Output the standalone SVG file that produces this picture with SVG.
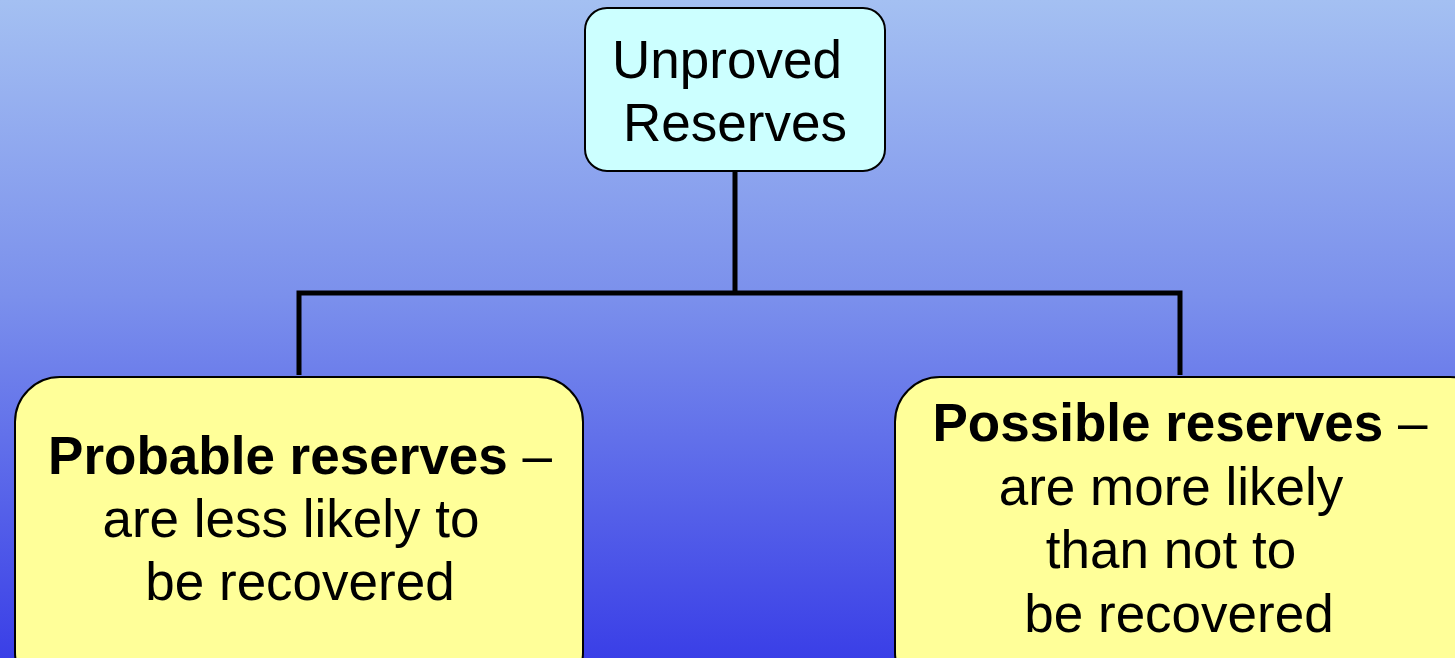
<svg xmlns="http://www.w3.org/2000/svg" width="1455" height="658" viewBox="0 0 1455 658">
<defs>
<linearGradient id="bg" x1="0" y1="0" x2="0" y2="1">
<stop offset="0" stop-color="#a4c0f2"/>
<stop offset="0.45" stop-color="#7b90ec"/>
<stop offset="1" stop-color="#3a3fe7"/>
</linearGradient>
<style>
.t{font-family:"Liberation Sans",Arial,sans-serif;font-size:53px;fill:#000;text-anchor:middle}
.b{font-weight:bold}
.box{stroke:#000;stroke-width:2}
.conn{fill:none;stroke:#000;stroke-width:5}
</style>
</defs>
<rect x="0" y="0" width="1455" height="658" fill="url(#bg)"/>
<g id="connectors">
<path class="conn" d="M735 171 V293 M299 375 V293 H1180 V375"/>
</g>
<g id="unproved">
<rect class="box" x="585" y="8" width="300" height="163" rx="22" fill="#ccffff"/>
<text class="t" x="727" y="78">Unproved</text>
<text class="t" x="735" y="141">Reserves</text>
</g>
<g id="probable">
<rect class="box" x="15" y="377" width="568" height="320" rx="45" fill="#ffff99"/>
<text class="t" x="300" y="474"><tspan class="b">Probable reserves</tspan> –</text>
<text class="t" x="291" y="537">are less likely to</text>
<text class="t" x="300" y="600">be recovered</text>
</g>
<g id="possible">
<rect class="box" x="895" y="377" width="600" height="320" rx="45" fill="#ffff99"/>
<text class="t" x="1180" y="441"><tspan class="b">Possible reserves</tspan> –</text>
<text class="t" x="1171" y="505">are more likely</text>
<text class="t" x="1171" y="568">than not to</text>
<text class="t" x="1179" y="632">be recovered</text>
</g>
</svg>
